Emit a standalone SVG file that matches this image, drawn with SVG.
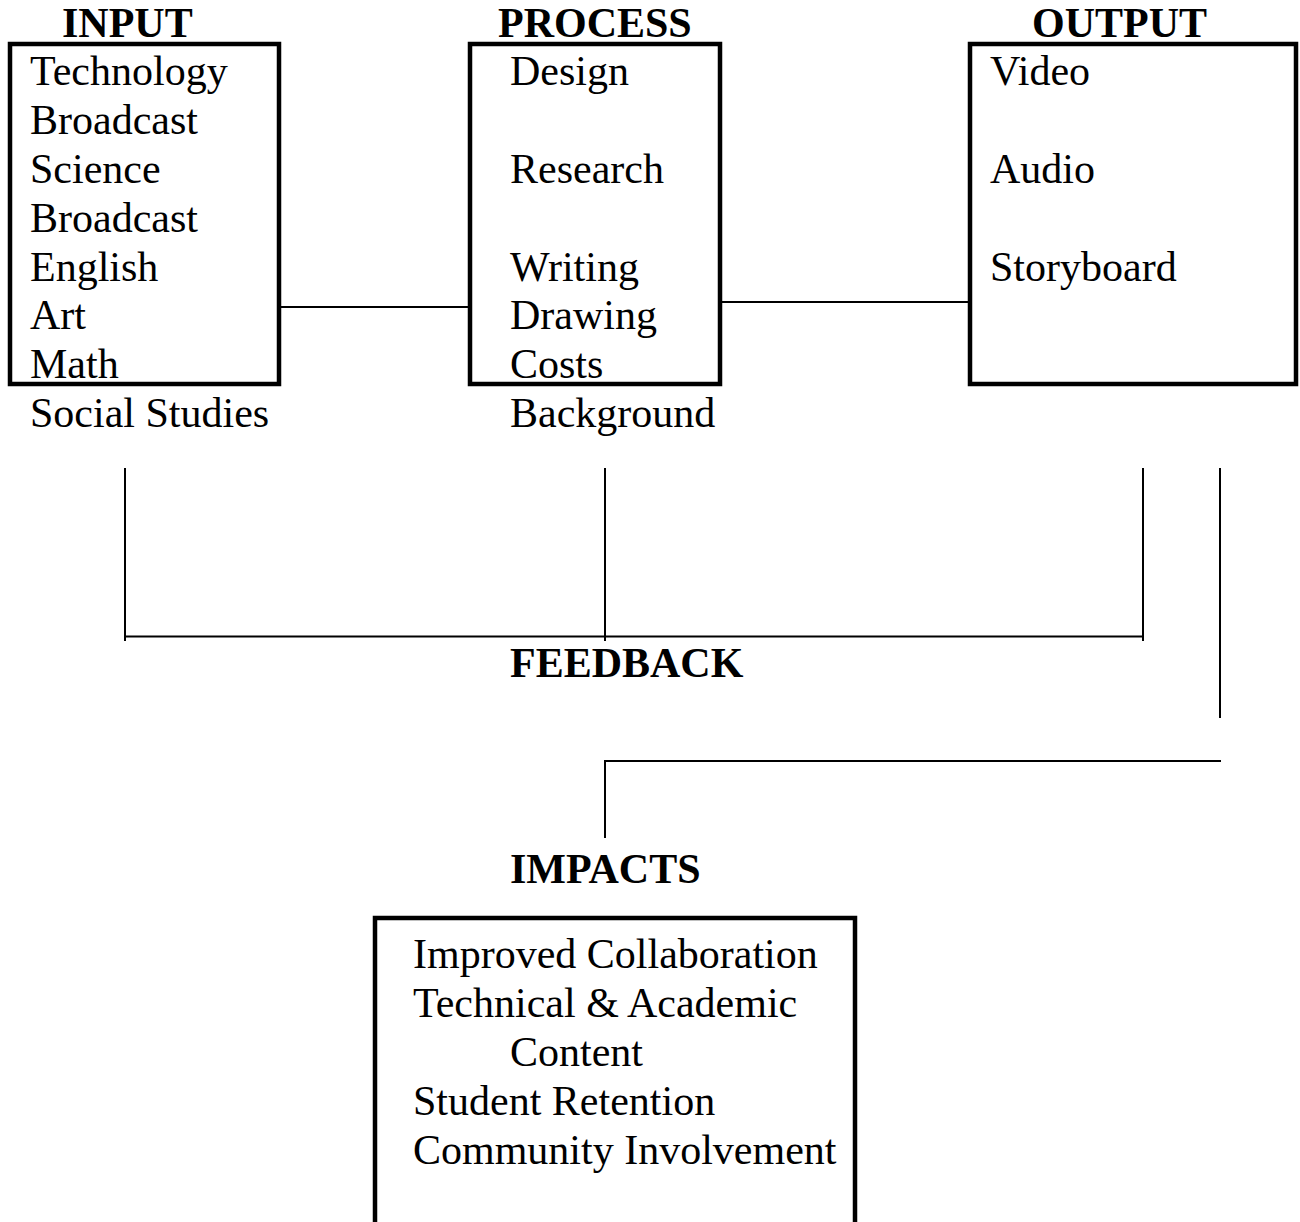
<svg xmlns="http://www.w3.org/2000/svg" width="1300" height="1222" viewBox="0 0 1300 1222">
  <style>
    .box { fill: none; stroke: #000; stroke-width: 4.5; }
    .conn { fill: none; stroke: #000; stroke-width: 2; }
    .t { font-family: "Liberation Serif", "Times New Roman", serif; font-size: 42px; fill: #000; }
    .h { font-family: "Liberation Serif", "Times New Roman", serif; font-size: 42px; font-weight: bold; fill: #000; }
  </style>
  <rect width="1300" height="1222" fill="#fff"/>
  <g id="connectors">
    <line class="conn" x1="279" y1="307" x2="470" y2="307"/>
    <line class="conn" x1="720" y1="302" x2="970" y2="302"/>
    <line class="conn" x1="125" y1="468" x2="125" y2="641"/>
    <line class="conn" x1="605" y1="468" x2="605" y2="641"/>
    <line class="conn" x1="1143" y1="468" x2="1143" y2="641"/>
    <line class="conn" x1="125" y1="636.5" x2="1143" y2="636.5"/>
    <line class="conn" x1="1220" y1="468" x2="1220" y2="718"/>
    <polyline class="conn" points="1221,761 605,761 605,838"/>
  </g>
  <g id="input">
    <text class="h" x="62" y="37">INPUT</text>
    <rect class="box" x="10" y="44" width="269" height="340"/>
    <text class="t" x="30" y="85">Technology</text>
    <text class="t" x="30" y="134">Broadcast</text>
    <text class="t" x="30" y="183">Science</text>
    <text class="t" x="30" y="232">Broadcast</text>
    <text class="t" x="30" y="281">English</text>
    <text class="t" x="30" y="329">Art</text>
    <text class="t" x="30" y="378">Math</text>
    <text class="t" x="30" y="427">Social Studies</text>
  </g>
  <g id="process">
    <text class="h" x="498" y="37">PROCESS</text>
    <rect class="box" x="470" y="44" width="250" height="340"/>
    <text class="t" x="510" y="85">Design</text>
    <text class="t" x="510" y="183">Research</text>
    <text class="t" x="510" y="281">Writing</text>
    <text class="t" x="510" y="329">Drawing</text>
    <text class="t" x="510" y="378">Costs</text>
    <text class="t" x="510" y="427">Background</text>
  </g>
  <g id="output">
    <text class="h" x="1032" y="37">OUTPUT</text>
    <rect class="box" x="970" y="44" width="326" height="340"/>
    <text class="t" x="990" y="85">Video</text>
    <text class="t" x="990" y="183">Audio</text>
    <text class="t" x="990" y="281">Storyboard</text>
  </g>
  <g id="feedback">
    <text class="h" x="510" y="677">FEEDBACK</text>
  </g>
  <g id="impacts">
    <text class="h" x="510" y="883">IMPACTS</text>
    <rect class="box" x="375" y="918" width="480" height="330"/>
    <text class="t" x="413" y="968">Improved Collaboration</text>
    <text class="t" x="413" y="1017">Technical &amp; Academic</text>
    <text class="t" x="510" y="1066">Content</text>
    <text class="t" x="413" y="1115">Student Retention</text>
    <text class="t" x="413" y="1164">Community Involvement</text>
  </g>
</svg>
